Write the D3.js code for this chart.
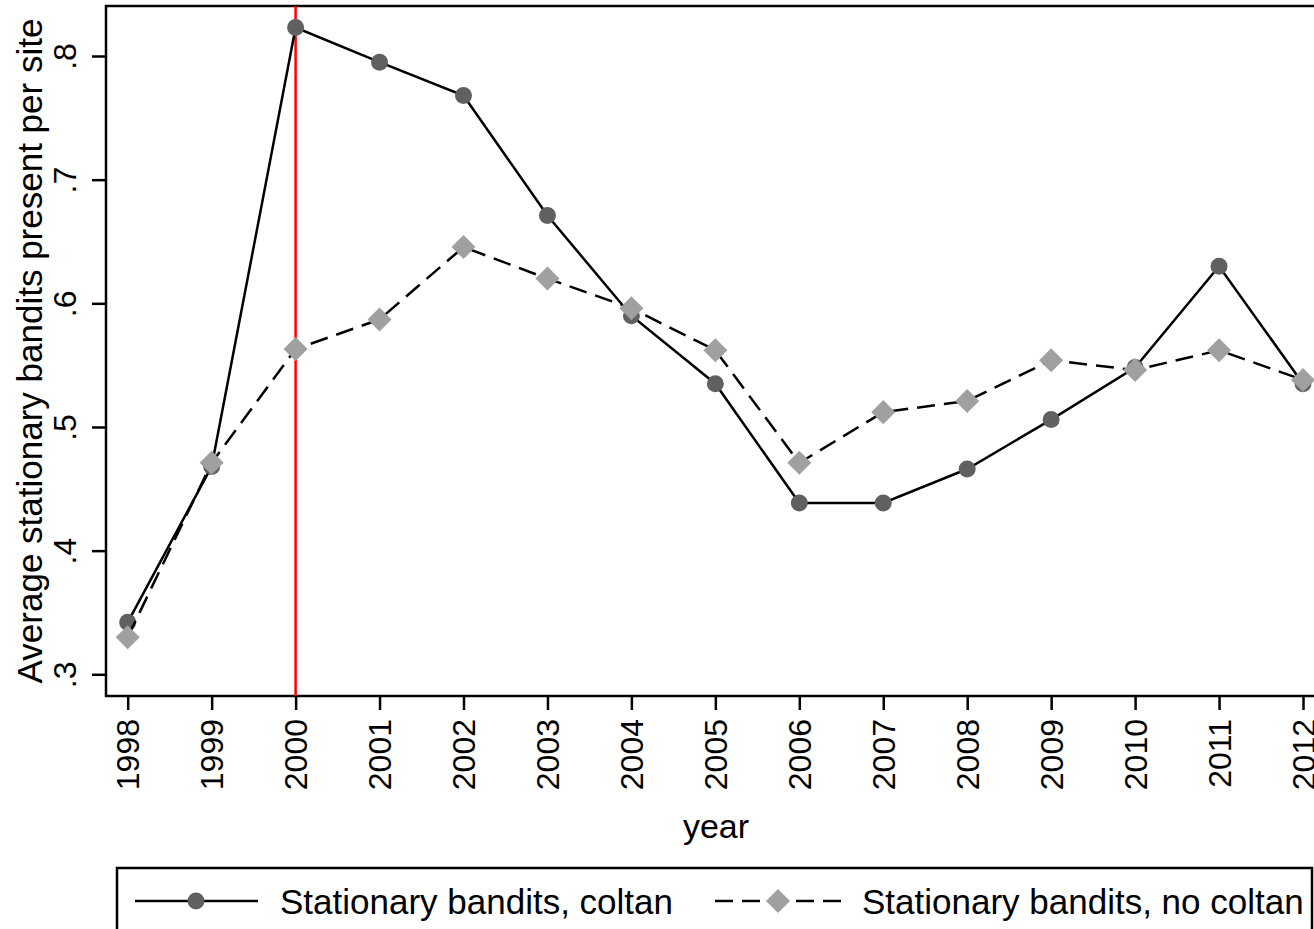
<!DOCTYPE html>
<html>
<head>
<meta charset="utf-8">
<script src="https://cdn.jsdelivr.net/npm/d3@7"></script>
<style>
  html, body { margin: 0; padding: 0; background: #fff; }
  svg { display: block; font-family: "Liberation Sans", Arial, sans-serif; }
</style>
</head>
<body>
<svg id="chart" width="1314" height="929"></svg>
<script>
// Years observed
const years = [1998, 1999, 2000, 2001, 2002, 2003, 2004, 2005, 2006, 2007, 2008, 2009, 2010, 2011, 2012];
// Average stationary bandits present per site, coltan sites
const coltan = [0.342, 0.468, 0.823, 0.795, 0.768, 0.671, 0.590, 0.535, 0.4385, 0.4385, 0.466, 0.506, 0.548, 0.630, 0.535];
// Average stationary bandits present per site, non-coltan sites
const noColtan = [0.330, 0.471, 0.563, 0.587, 0.6455, 0.620, 0.596, 0.562, 0.471, 0.512, 0.521, 0.554, 0.546, 0.562, 0.538];
const yTicks = [0.3, 0.4, 0.5, 0.6, 0.7, 0.8];
const yTickLabels = [".3", ".4", ".5", ".6", ".7", ".8"];
const markerYear = 2000;
const seriesNames = ["Stationary bandits, coltan", "Stationary bandits, no coltan"];

const svg = d3.select("#chart");

const plot = { left: 106, right: 1324, top: 6, bottom: 696 };

const x = d3.scaleLinear().domain([1998, 2012]).range([127.7, 1303]);
const y = d3.scaleLinear().domain([0.3, 0.8]).range([674.3, 56]);

// Plot region frame
svg.append("rect")
  .attr("x", plot.left).attr("y", plot.top)
  .attr("width", plot.right - plot.left).attr("height", plot.bottom - plot.top)
  .attr("fill", "none").attr("stroke", "#000").attr("stroke-width", 2.5);

// Y axis
const yAxis = svg.append("g")
  .attr("transform", `translate(${plot.left},0)`)
  .call(d3.axisLeft(y).tickValues(yTicks).tickSize(14).tickFormat((d, i) => yTickLabels[i]));
yAxis.select(".domain").remove();
yAxis.selectAll(".tick line").attr("stroke", "#000").attr("stroke-width", 2.5);
yAxis.selectAll(".tick text")
  .attr("x", 0).attr("y", 0)
  .attr("transform", "translate(-30,0) rotate(-90)")
  .attr("text-anchor", "middle")
  .attr("dy", 0)
  .attr("font-size", 32)
  .attr("fill", "#000");

// X axis
const xAxis = svg.append("g")
  .attr("transform", `translate(0,${plot.bottom})`)
  .call(d3.axisBottom(x).tickValues(years).tickSize(14).tickFormat(d3.format("d")));
xAxis.select(".domain").remove();
xAxis.selectAll(".tick line").attr("stroke", "#000").attr("stroke-width", 2.5);
xAxis.selectAll(".tick text")
  .attr("x", 0).attr("y", 0)
  .attr("transform", "translate(11,23) rotate(-90)")
  .attr("text-anchor", "end")
  .attr("dy", 0)
  .attr("font-size", 32)
  .attr("fill", "#000");

// Axis titles
svg.append("text")
  .attr("transform", `translate(42,${(plot.top + plot.bottom) / 2}) rotate(-90)`)
  .attr("text-anchor", "middle")
  .attr("font-size", 35)
  .text("Average stationary bandits present per site");

svg.append("text")
  .attr("x", 716).attr("y", 838)
  .attr("text-anchor", "middle")
  .attr("font-size", 34)
  .text("year");

// Reference line at 2000
svg.append("line")
  .attr("x1", x(markerYear)).attr("x2", x(markerYear))
  .attr("y1", plot.top).attr("y2", plot.bottom)
  .attr("stroke", "#ff0000").attr("stroke-width", 2.5);

const line = d3.line().x(d => x(d[0])).y(d => y(d[1]));
const coltanPts = years.map((yr, i) => [yr, coltan[i]]);
const noColtanPts = years.map((yr, i) => [yr, noColtan[i]]);

const circleFill = "#606060";
const diamondFill = "#a0a0a0";
const dash = "18,9";
const diamond = d3.symbol().type(d3.symbolSquare).size(17 * 17);

// Coltan series
svg.append("path").datum(coltanPts)
  .attr("d", line).attr("fill", "none").attr("stroke", "#000").attr("stroke-width", 2.5);
svg.append("g").selectAll("circle").data(coltanPts).join("circle")
  .attr("cx", d => x(d[0])).attr("cy", d => y(d[1])).attr("r", 8.5)
  .attr("fill", circleFill);

// No coltan series
svg.append("path").datum(noColtanPts)
  .attr("d", line).attr("fill", "none").attr("stroke", "#000").attr("stroke-width", 2.5)
  .attr("stroke-dasharray", dash);
svg.append("g").selectAll("path").data(noColtanPts).join("path")
  .attr("d", diamond)
  .attr("transform", d => `translate(${x(d[0])},${y(d[1])}) rotate(45)`)
  .attr("fill", diamondFill);

// Legend
const legend = svg.append("g");
legend.append("rect")
  .attr("x", 117).attr("y", 868).attr("width", 1195).attr("height", 80)
  .attr("fill", "#fff").attr("stroke", "#000").attr("stroke-width", 2.5);

const ly = 901;
legend.append("line").attr("x1", 135).attr("x2", 258).attr("y1", ly).attr("y2", ly)
  .attr("stroke", "#000").attr("stroke-width", 2.5);
legend.append("circle").attr("cx", 196).attr("cy", ly).attr("r", 8.5).attr("fill", circleFill);
legend.append("text").attr("x", 280).attr("y", ly + 13).attr("font-size", 35).text(seriesNames[0]);

legend.append("line").attr("x1", 715).attr("x2", 850).attr("y1", ly).attr("y2", ly)
  .attr("stroke", "#000").attr("stroke-width", 2.5).attr("stroke-dasharray", dash);
legend.append("path").attr("d", diamond)
  .attr("transform", `translate(778,${ly}) rotate(45)`).attr("fill", diamondFill);
legend.append("text").attr("x", 862).attr("y", ly + 13).attr("font-size", 35).text(seriesNames[1]);
</script>
</body>
</html>
